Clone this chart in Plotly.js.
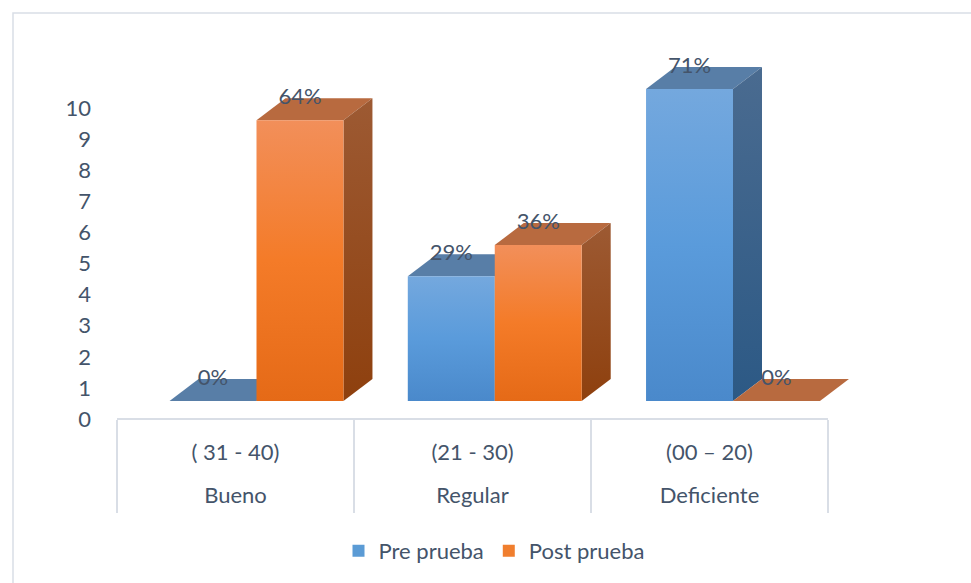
<!DOCTYPE html>
<html>
<head>
<meta charset="utf-8">
<script src="https://cdn.plot.ly/plotly-3.0.1.min.js"></script>
<style>
  html, body { margin: 0; padding: 0; background: #ffffff; }
  #chart { width: 971px; height: 583px; }
</style>
</head>
<body>
<div id="chart"></div>
<script>
// ---------------- data ----------------
const categories   = ['Bueno', 'Regular', 'Deficiente'];
const scoreRanges  = ['( 31 - 40)', '(21 - 30)', '(00 \u2013 20)'];
const preValues    = [0, 4, 10];
const postValues   = [9, 5, 0];
const preLabels    = ['0%', '29%', '71%'];
const postLabels   = ['64%', '36%', '0%'];
const yTickValues  = [0, 1, 2, 3, 4, 5, 6, 7, 8, 9, 10];
const seriesNames  = ['Pre prueba', 'Post prueba'];

// ---------------- geometry / style ----------------
const W = 971, H = 583;
const FONT = 'Lato, Open Sans, sans-serif';
const FS = 22;
const TEXT = '#44546a';
const GRID = '#d9dee6';
const px2x = p => p / W;
const px2y = p => 1 - p / H;

const domX = [100, 870];
const domY = [42, 432];
const barCenter0 = 256.5, barStep = 238.25;
const barBase = 401, barUnit = 31.2;
const tickBase = 419, tickUnit = 31.1;
const bargap = 0.27;
const halfW = (1 - bargap) / 2;
const depthX = 29 / barStep;
const depthY = 22 / barUnit;
const labelLift = -0.02;

const xRange  = [(domX[0] - barCenter0) / barStep, (domX[1] - barCenter0) / barStep];
const yRange  = [(barBase - domY[1]) / barUnit, (barBase - domY[0]) / barUnit];
const y2Range = [(tickBase - domY[1]) / tickUnit, (tickBase - domY[0]) / tickUnit];

const colors = {
  pre:  { front: '#5b9bd5', top: '#587ea7', side: '#3b6591',
          frontGrad: ['#74a8de', '#5a9bdb', '#4a89cb'], sideGrad: ['#4a6b90', '#2c5985'] },
  post: { front: '#f07e2e', top: '#b86a3f', side: '#974d20',
          frontGrad: ['#f28f5a', '#f47b28', '#e56a17'], sideGrad: ['#9d5a33', '#8e400e'] }
};

// ---------------- 3-D faces as shapes (below the bar fronts) ----------------
const shapes = [];
const sideShapeIdx = { pre: [], post: [] };
function addFaces(values, offset, c, key) {
  values.forEach((v, i) => {
    const x0 = i + offset, x1 = x0 + halfW;
    shapes.push({
      type: 'path', xref: 'x', yref: 'y', layer: 'below',
      path: `M${x0},${v} L${x0 + depthX},${v + depthY} L${x1 + depthX},${v + depthY} L${x1},${v} Z`,
      fillcolor: c.top, line: { width: 0 }
    });
    if (v > 0) {
      sideShapeIdx[key].push(shapes.length);
      shapes.push({
        type: 'path', xref: 'x', yref: 'y', layer: 'below',
        path: `M${x1},0 L${x1 + depthX},${depthY} L${x1 + depthX},${v + depthY} L${x1},${v} Z`,
        fillcolor: c.side, line: { width: 0 }
      });
    }
  });
}
addFaces(preValues, -halfW, colors.pre, 'pre');
addFaces(postValues, 0, colors.post, 'post');

shapes.push({
  type: 'rect', xref: 'paper', yref: 'paper', layer: 'below',
  x0: px2x(13), x1: 1.02, y0: -0.02, y1: px2y(13),
  line: { color: GRID, width: 1.5 }, fillcolor: 'rgba(0,0,0,0)'
});

// ---------------- traces ----------------
const idx = categories.map((_, i) => i);
const holder = (xa, ya) => ({
  type: 'scatter', mode: 'markers', x: [0], y: [0], xaxis: xa, yaxis: ya,
  marker: { opacity: 0, size: 1 }, showlegend: false, hoverinfo: 'skip'
});
const traces = [
  {
    type: 'bar', name: seriesNames[0], x: idx, y: preValues,
    marker: { color: colors.pre.front, line: { width: 0 } }, hoverinfo: 'skip'
  },
  {
    type: 'bar', name: seriesNames[1], x: idx, y: postValues,
    marker: { color: colors.post.front, line: { width: 0 } }, hoverinfo: 'skip'
  },
  {
    type: 'scatter', mode: 'text', showlegend: false, hoverinfo: 'skip', cliponaxis: false,
    x: idx.map(i => i - halfW / 2), y: preValues.map(v => v + depthY + labelLift),
    text: preLabels, textposition: 'middle center',
    textfont: { family: FONT, size: FS, color: TEXT }
  },
  {
    type: 'scatter', mode: 'text', showlegend: false, hoverinfo: 'skip', cliponaxis: false,
    x: idx.map(i => i + halfW / 2), y: postValues.map(v => v + depthY + labelLift),
    text: postLabels, textposition: 'middle center',
    textfont: { family: FONT, size: FS, color: TEXT }
  },
  holder('x', 'y2'),
  holder('x2', 'y2'),
  holder('x3', 'y2'),
  holder('x4', 'y2')
];

const catDomain = [px2x(117), px2x(828)];

const layout = {
  width: W, height: H,
  margin: { l: 0, r: 0, t: 0, b: 0 },
  paper_bgcolor: '#ffffff', plot_bgcolor: 'rgba(0,0,0,0)',
  font: { family: FONT, size: FS, color: TEXT },
  barmode: 'group', bargap: bargap, bargroupgap: 0,
  showlegend: true,
  legend: {
    orientation: 'h', x: px2x(494), xanchor: 'center', y: px2y(551), yanchor: 'middle',
    font: { family: FONT, size: FS, color: TEXT }, bgcolor: 'rgba(0,0,0,0)'
  },
  xaxis: {
    domain: [px2x(domX[0]), px2x(domX[1])], range: xRange, visible: false, fixedrange: true
  },
  yaxis: {
    domain: [px2y(domY[1]), px2y(domY[0])], range: yRange, visible: false, fixedrange: true
  },
  yaxis2: {
    overlaying: 'y', anchor: 'free', position: px2x(91), side: 'left',
    range: y2Range, tickvals: yTickValues, ticktext: yTickValues.map(String),
    showgrid: false, zeroline: false, showline: false, ticks: '',
    tickfont: { family: FONT, size: FS, color: TEXT }
  },
  xaxis2: {
    domain: catDomain, anchor: 'free', position: px2y(418),
    range: [-0.5, categories.length - 0.5],
    tickvals: categories.map((_, i) => i - 0.5).concat([categories.length - 0.5]),
    showticklabels: false, ticks: 'outside', ticklen: 93, tickwidth: 1.5, tickcolor: GRID,
    showline: true, linecolor: GRID, linewidth: 1.5, showgrid: false, zeroline: false
  },
  xaxis3: {
    domain: catDomain, anchor: 'free', position: px2y(437),
    range: [-0.5, categories.length - 0.5],
    tickvals: idx, ticktext: scoreRanges, ticks: '',
    showline: false, showgrid: false, zeroline: false,
    tickfont: { family: FONT, size: FS, color: TEXT }
  },
  xaxis4: {
    domain: catDomain, anchor: 'free', position: px2y(480),
    range: [-0.5, categories.length - 0.5],
    tickvals: idx, ticktext: categories, ticks: '',
    showline: false, showgrid: false, zeroline: false,
    tickfont: { family: FONT, size: FS, color: TEXT }
  },
  shapes: shapes
};

// vertical shading of front and side faces (Office-style 3-D bars)
function addGradients(gd) {
  const svg = gd.querySelector('svg.main-svg');
  if (!svg) return;
  const NS = 'http://www.w3.org/2000/svg';
  let defs = svg.querySelector('defs');
  if (!defs) { defs = document.createElementNS(NS, 'defs'); svg.insertBefore(defs, svg.firstChild); }
  function grad(id, stops) {
    const g = document.createElementNS(NS, 'linearGradient');
    g.setAttribute('id', id); g.setAttribute('x1', '0'); g.setAttribute('y1', '0');
    g.setAttribute('x2', '0'); g.setAttribute('y2', '1');
    stops.forEach((c, k) => {
      const s = document.createElementNS(NS, 'stop');
      s.setAttribute('offset', (k / (stops.length - 1)).toFixed(3));
      s.setAttribute('stop-color', c);
      g.appendChild(s);
    });
    defs.appendChild(g);
  }
  grad('gPreFront', colors.pre.frontGrad);
  grad('gPostFront', colors.post.frontGrad);
  grad('gPreSide', colors.pre.sideGrad);
  grad('gPostSide', colors.post.sideGrad);
  const barTraces = gd.querySelectorAll('.barlayer .trace');
  const ids = ['gPreFront', 'gPostFront'];
  barTraces.forEach((t, k) => {
    t.querySelectorAll('.point path').forEach(p => { p.style.fill = `url(#${ids[k]})`; });
  });
  const setShape = (list, id) => list.forEach(n => {
    gd.querySelectorAll(`.shapelayer path[data-index="${n}"]`).forEach(p => { p.style.fill = `url(#${id})`; });
  });
  setShape(sideShapeIdx.pre, 'gPreSide');
  setShape(sideShapeIdx.post, 'gPostSide');
}

Plotly.newPlot('chart', traces, layout, { displayModeBar: false, staticPlot: true })
  .then(addGradients);
</script>
</body>
</html>
